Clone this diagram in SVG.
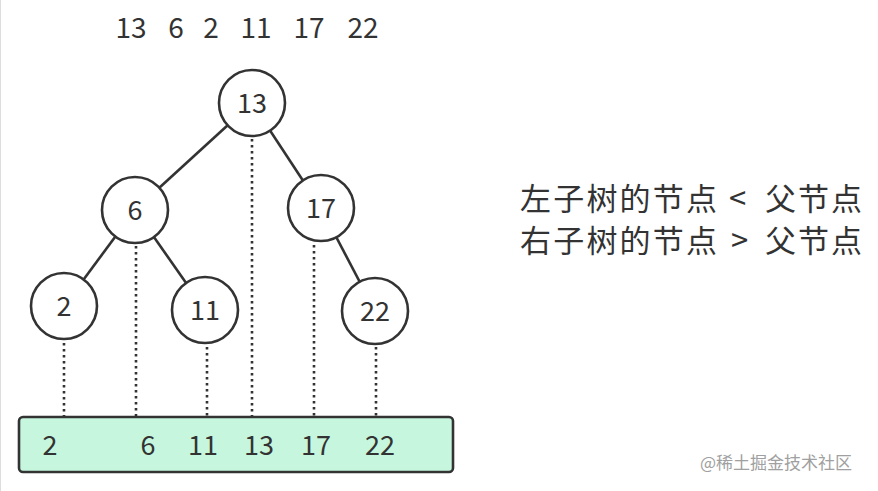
<svg xmlns="http://www.w3.org/2000/svg" width="878" height="491" viewBox="0 0 878 491">
<style>
.n{fill:#fff;stroke:#333;stroke-width:2.6}
.e{stroke:#333;stroke-width:2.6;fill:none}
.d{stroke:#333;stroke-width:2.6;stroke-dasharray:2.6 3.4;fill:none}
.t{font-family:"Noto Sans CJK SC","Noto Sans",sans-serif;fill:#333;text-anchor:middle}
.num{font-size:27px}
.cn{font-family:"Noto Sans CJK SC",sans-serif;fill:#333;font-size:31px}
</style>
<rect width="878" height="491" fill="#fff"/>
<line x1="0.5" y1="0" x2="0.5" y2="491" stroke="#ddd" stroke-width="1"/>
<g id="sequence" class="t num">
<text x="131" y="38" font-size="28">13</text>
<text x="176" y="38" font-size="28">6</text>
<text x="211" y="38" font-size="28">2</text>
<text x="256" y="38" font-size="28">11</text>
<text x="309" y="38" font-size="28">17</text>
<text x="363" y="38" font-size="28">22</text>
</g>
<g id="connectors">
<line class="e" x1="252" y1="103" x2="135" y2="210"/>
<line class="e" x1="252" y1="103" x2="321" y2="208"/>
<line class="e" x1="135" y1="210" x2="64" y2="306"/>
<line class="e" x1="135" y1="210" x2="205" y2="310"/>
<line class="e" x1="321" y1="208" x2="375" y2="311"/>
<line class="d" x1="64" y1="343" x2="64" y2="417"/>
<line class="d" x1="136" y1="246" x2="136" y2="417"/>
<line class="d" x1="207" y1="347" x2="207" y2="417"/>
<line class="d" x1="252" y1="139" x2="252" y2="417"/>
<line class="d" x1="314" y1="245" x2="314" y2="417"/>
<line class="d" x1="376" y1="347" x2="376" y2="417"/>
</g>
<g id="node13"><circle class="n" cx="252" cy="103" r="33"/><text class="t num" x="252" y="113">13</text></g>
<g id="node6"><circle class="n" cx="135" cy="210" r="33"/><text class="t num" x="135" y="220">6</text></g>
<g id="node17"><circle class="n" cx="321" cy="208" r="33"/><text class="t num" x="321" y="218">17</text></g>
<g id="node2"><circle class="n" cx="64" cy="306" r="33"/><text class="t num" x="64" y="316">2</text></g>
<g id="node11"><circle class="n" cx="205" cy="310" r="33"/><text class="t num" x="205" y="320">11</text></g>
<g id="node22"><circle class="n" cx="375" cy="311" r="33"/><text class="t num" x="375" y="321">22</text></g>
<g id="array">
<rect x="19" y="417" width="434" height="55" rx="4" fill="#c6f7de" stroke="#333" stroke-width="2.6"/>
<g class="t num">
<text x="50" y="455">2</text>
<text x="148" y="455">6</text>
<text x="203" y="455">11</text>
<text x="259" y="455">13</text>
<text x="316" y="455">17</text>
<text x="380" y="455">22</text>
</g>
</g>
<g id="rules" class="cn">
<text y="210"><tspan x="520" textLength="197" lengthAdjust="spacing">左子树的节点</tspan><tspan x="729">&lt;</tspan><tspan x="765" textLength="97" lengthAdjust="spacing">父节点</tspan></text>
<text y="252"><tspan x="520" textLength="197" lengthAdjust="spacing">右子树的节点</tspan><tspan x="731">&gt;</tspan><tspan x="765" textLength="97" lengthAdjust="spacing">父节点</tspan></text>
</g>
<text x="700" y="469" font-family="'Noto Sans CJK SC',sans-serif" font-size="17" fill="#a0a0a0">@稀土掘金技术社区</text>
</svg>
